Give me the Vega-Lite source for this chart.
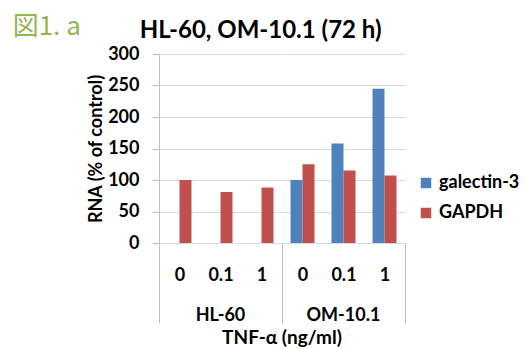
{
  "$schema": "https://vega.github.io/schema/vega-lite/v6.json",
  "background": "white",
  "padding": {"left": 12, "top": 14, "right": 2, "bottom": 0},
  "title": {"text": "図1. a", "anchor": "start", "color": "#93b650", "fontSize": 26, "font": "Noto Sans CJK JP", "fontWeight": "normal", "dy": 25, "dx": -75},
  "config": {"font": "Lato", "view": {"stroke": null}},
  "vconcat": [
    {
      "data": {
        "values": [
          {"line": "HL-60", "dose": "0", "gene": "galectin-3", "value": 0},
          {"line": "HL-60", "dose": "0", "gene": "GAPDH", "value": 100},
          {"line": "HL-60", "dose": "0.1", "gene": "galectin-3", "value": 0},
          {"line": "HL-60", "dose": "0.1", "gene": "GAPDH", "value": 81},
          {"line": "HL-60", "dose": "1", "gene": "galectin-3", "value": 0},
          {"line": "HL-60", "dose": "1", "gene": "GAPDH", "value": 88},
          {"line": "OM-10.1", "dose": "0", "gene": "galectin-3", "value": 100},
          {"line": "OM-10.1", "dose": "0", "gene": "GAPDH", "value": 125},
          {"line": "OM-10.1", "dose": "0.1", "gene": "galectin-3", "value": 158},
          {"line": "OM-10.1", "dose": "0.1", "gene": "GAPDH", "value": 115},
          {"line": "OM-10.1", "dose": "1", "gene": "galectin-3", "value": 245},
          {"line": "OM-10.1", "dose": "1", "gene": "GAPDH", "value": 107}
        ]
      },
      "title": {"text": "HL-60, OM-10.1 (72 h)", "fontSize": 24, "fontWeight": "bold", "anchor": "middle", "offset": 2, "dx": 14, "color": "black"},
      "spacing": 0,
      "facet": {
        "column": {
          "field": "line", "type": "nominal", "sort": ["HL-60", "OM-10.1"], "title": "TNF-α (ng/ml)",
          "header": {
            "labelOrient": "bottom", "titleOrient": "bottom",
            "labelFontSize": 18, "labelFontWeight": "bold", "labelColor": "black", "labelPadding": -17,
            "titleFontSize": 19, "titleFontWeight": "bold", "titleColor": "black", "titlePadding": -6
          }
        }
      },
      "spec": {
        "width": 123,
        "height": 189,
        "mark": {"type": "bar"},
        "encoding": {
          "x": {
            "field": "dose", "type": "nominal", "sort": ["0", "0.1", "1"],
            "scale": {"paddingInner": 0, "paddingOuter": 0},
            "axis": {
              "title": null, "labelAngle": 0, "labelFontSize": 18, "labelFontWeight": "bold", "labelColor": "black",
              "tickBand": "extent", "tickSize": 80, "tickColor": "#bfbfbf",
              "tickOpacity": {"condition": {"test": "datum.value !== '0' && datum.value !== '0.1'", "value": 1}, "value": 0},
              "labelPadding": -57, "domainColor": "#bfbfbf"
            }
          },
          "xOffset": {"field": "gene", "type": "nominal", "sort": ["galectin-3", "GAPDH"], "scale": {"paddingInner": 0, "paddingOuter": 0.71}},
          "y": {
            "field": "value", "type": "quantitative", "scale": {"domain": [0, 300]},
            "axis": {
              "title": "RNA (% of control)", "titleFontSize": 18, "titleFontWeight": "bold", "titleColor": "black", "titlePadding": 2,
              "values": [0, 50, 100, 150, 200, 250, 300],
              "labelFontSize": 18, "labelFontWeight": "bold", "labelColor": "black", "labelPadding": 13,
              "tickSize": 7, "tickColor": "#bfbfbf", "domainColor": "#bfbfbf", "gridColor": "#d9d9d9"
            }
          },
          "color": {
            "field": "gene", "type": "nominal", "sort": ["galectin-3", "GAPDH"],
            "scale": {"range": ["#4f81bd", "#c0504d"]},
            "legend": {
              "title": null, "orient": "none", "legendX": 258, "legendY": 120,
              "symbolType": "square", "symbolSize": 110, "symbolStrokeWidth": 0,
              "labelFontSize": 18, "labelFontWeight": "bold", "labelColor": "black", "rowPadding": 12
            }
          }
        }
      }
    }
  ]
}
